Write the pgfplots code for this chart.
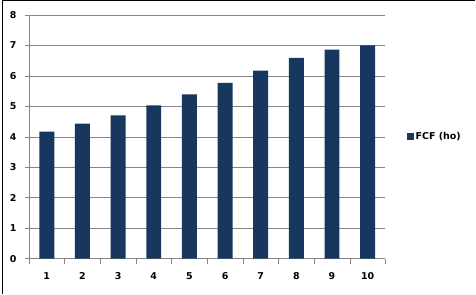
\documentclass[border=0pt]{standalone}
\usepackage{pgfplots}
\pgfplotsset{compat=1.18}
\usepackage{fontspec}
\setmainfont{DejaVu Sans}
\definecolor{barblue}{RGB}{23,55,94}
\definecolor{gridgray}{RGB}{134,134,134}
\begin{document}
\begin{tikzpicture}[x=1bp,y=1bp]
\path (0,0) rectangle (476,294);
\draw[black, line width=1.3bp] (2.2,0) -- (2.2,293.3) -- (476,293.3);
\begin{axis}[
  at={(29bp,35bp)}, anchor=south west,
  scale only axis, width=357bp, height=244bp,
  xmin=0.5, xmax=10.5, ymin=0, ymax=8,
  xtick={1,...,10},
  minor xtick={0.5,1.5,...,10.5},
  ytick={0,1,...,8},
  ymajorgrids, major grid style={gridgray, line width=0.6bp},
  axis line style={gridgray, line width=0.6bp},
  axis x line*=bottom, axis y line*=left,
  tick align=outside,
  major tick length=4bp, minor tick length=5bp,
  major x tick style={draw=none},
  minor x tick style={gridgray, line width=0.6bp},
  major y tick style={gridgray, line width=0.6bp},
  ticklabel style={font=\fontsize{9.5}{11}\selectfont\bfseries},
  /pgf/number format/assume math mode=true,
  xticklabel style={yshift=-6bp},
  yticklabel style={xshift=-5bp},
  legend style={at={(1,0.5)}, anchor=west, xshift=21bp, draw=none, fill=none,
    font=\fontsize{9.5}{11}\selectfont\bfseries, inner sep=0pt,
    legend cell align=left},
  legend image code/.code={\fill[barblue] (0bp,-3.5bp) rectangle (7bp,3.5bp);},
]
\addplot[ybar, bar width=15bp, fill=barblue, draw=none] coordinates {
(1,4.17) (2,4.43) (3,4.70) (4,5.03) (5,5.39) (6,5.77) (7,6.17) (8,6.59) (9,6.86) (10,7.00)
};
\addlegendentry{FCF (ho)}
\end{axis}
\end{tikzpicture}
\end{document}
